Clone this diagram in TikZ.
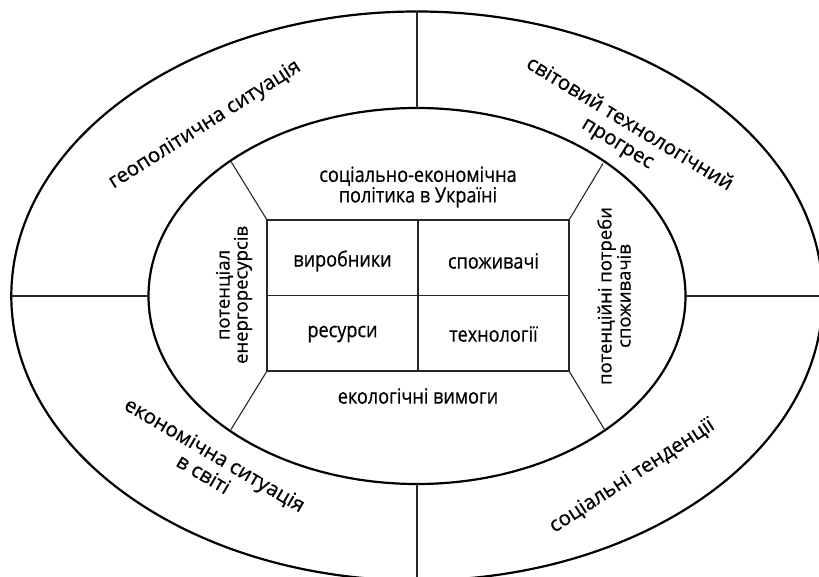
\documentclass[tikz,border=0pt]{standalone}
\usepackage{fontspec}
\setmainfont[FakeBold=0.6]{Open Sans}
\newfontfamily\condf[FakeStretch=0.86,FakeBold=0.6]{Open Sans}
\begin{document}
\begin{tikzpicture}[x=1pt,y=-1pt,
  ring/.style={draw=black,line width=2.2pt},
  divider/.style={draw=black!85,line width=1.1pt},
  outertext/.style={font=\fontsize{20.5}{22.5}\selectfont,align=center,inner sep=0pt},
  sidetext/.style={font=\fontsize{18.5}{17}\selectfont,align=center,inner sep=0pt,rotate=90},
  celltext/.style={font=\condf\fontsize{21}{20.5}\selectfont,align=center,inner sep=0pt}]
\useasboundingbox (0,0) rectangle (819,577);
\clip (0,0) rectangle (819,577);
\coordinate (c) at (417,296);
% rings
\draw[ring] (c) ellipse [x radius=405.7, y radius=284.5];
\draw[ring] (c) ellipse [x radius=268.5, y radius=188];
% outer ring dividers
\coordinate (ot) at (417,11.5);
\coordinate (it) at (417,108);
\coordinate (ib) at (417,484);
\coordinate (ob) at (417,580.5);
\coordinate (ol) at (11.3,296);
\coordinate (il) at (148.5,296);
\coordinate (ir) at (685.5,296);
\coordinate (or) at (822.7,296);
\draw[divider] (ot) -- (it);
\draw[divider] (ib) -- (ob);
\draw[divider] (ol) -- (il);
\draw[divider] (ir) -- (or);
% central grid
\coordinate (r1) at (267,220);
\coordinate (r2) at (569,220);
\coordinate (r3) at (569,371);
\coordinate (r4) at (267,371);
\coordinate (mt) at (418,220);
\coordinate (mb) at (418,371);
\coordinate (ml) at (267,295.5);
\coordinate (mr) at (569,295.5);
\draw[divider] (r1) -- (r2) -- (r3) -- (r4) -- cycle;
\draw[divider] (mt) -- (mb);
\draw[divider] (ml) -- (mr);
% diagonals
\coordinate (e1) at (231,161.5);
\coordinate (e2) at (603,163.5);
\coordinate (e3) at (604.5,429.5);
\coordinate (e4) at (231,429.5);
\draw[divider] (r1) -- (e1);
\draw[divider] (r2) -- (e2);
\draw[divider] (r3) -- (e3);
\draw[divider] (r4) -- (e4);
% cell texts
\node[celltext] (vyr) at (342.5,261) {виробники};
\node[celltext] (spo) at (493.5,261) {споживачі};
\node[celltext] (res) at (342.5,334) {ресурси};
\node[celltext] (teh) at (493.5,334) {технології};
\node[celltext] (pol) at (418,187) {соціально-економічна\\політика в Україні};
\node[celltext] (eko) at (418,396) {екологічні вимоги};
% side texts
\node[sidetext] (pot) at (234,295) {потенціал\\енергоресурсів};
\node[sidetext] (potr) at (614,296) {потенційні потреби\\споживачів};
% outer texts
\node[outertext,rotate=32.3] (geo) at (205,125) {геополітична ситуація};
\node[outertext,rotate=-31.4] (svit) at (623.5,134) {світовий технологічний\\прогрес};
\node[outertext,rotate=-30.5] (ekon) at (209.5,464) {економічна ситуація\\в світі};
\node[outertext,rotate=33] (soc) at (632,476) {соціальні тенденції};
\end{tikzpicture}
\end{document}
